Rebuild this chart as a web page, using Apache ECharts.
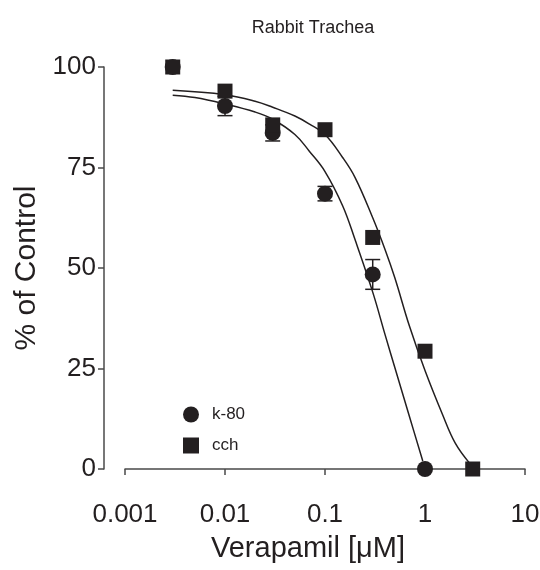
<!DOCTYPE html>
<html>
<head>
<meta charset="utf-8">
<script src="https://cdn.jsdelivr.net/npm/echarts@6/dist/echarts.min.js"></script>
<style>
html, body { margin: 0; padding: 0; background: #fff; }
#chart { width: 540px; height: 570px; }
</style>
</head>
<body>
<div id="chart"></div>
<script>
// measured points (Verapamil, µM)
var k80Dose = [0.003, 0.01, 0.03, 0.1, 0.3, 1];
var k80Mean = [100, 90.3, 83.6, 68.5, 48.4, 0];
var k80Sem = [0, 2.4, 2.0, 1.8, 3.7, 0];

var cchDose = [0.003, 0.01, 0.03, 0.1, 0.3, 1, 3];
var cchMean = [100, 94.0, 85.6, 84.4, 57.6, 29.3, 0];

// fitted curves
var k80CurveX = [0.003, 0.005, 0.01, 0.02, 0.03, 0.05, 0.07, 0.1, 0.15, 0.2, 0.3, 0.4, 0.5, 0.7, 0.95];
var k80CurveY = [93.0, 92.4, 90.8, 88.8, 87.0, 83.2, 79.0, 74.0, 65.5, 57.0, 44.0, 33.3, 25.2, 13, 2];
var cchCurveX = [0.003, 0.01, 0.02, 0.03, 0.05, 0.07, 0.1, 0.15, 0.2, 0.3, 0.4, 0.5, 0.7, 1, 1.5, 2, 2.8];
var cchCurveY = [94.2, 93.1, 91.5, 90.0, 87.8, 85.8, 83.2, 77.5, 72.5, 62.5, 54.5, 47.5, 35.5, 24.5, 13.5, 6.5, 1.4];

var yTicks = [0, 25, 50, 75, 100];

var ink = '#231f20';
var font = 'Liberation Sans, Arial, Helvetica, sans-serif';

function pairs(xs, ys) {
    return xs.map(function(x, i) { return [x, ys[i]]; });
}

var errData = k80Dose.map(function(x, i) {
    return [x, k80Mean[i] - k80Sem[i], k80Mean[i] + k80Sem[i]];
}).filter(function(d) { return d[2] > d[1]; });

var chartDom = document.getElementById('chart');
var myChart = echarts.init(chartDom);
var option;

option = {
    animation: false,
    backgroundColor: '#fff',
    title: {
        text: 'Rabbit Trachea',
        left: 308,
        top: 14,
        textAlign: 'center',
        textStyle: { fontFamily: font, fontSize: 18, fontWeight: 'normal', color: ink }
    },
    legend: {
        orient: 'vertical',
        left: 178,
        top: 401,
        itemWidth: 16,
        itemHeight: 16,
        itemGap: 14,
        data: ['k-80', 'cch'],
        itemStyle: { opacity: 1 },
        textStyle: { fontFamily: font, fontSize: 17, color: ink, padding: [0, 0, 0, 8] }
    },
    grid: { left: 125, right: 15, top: 67, bottom: 101, outerBoundsMode: 'none' },
    xAxis: {
        type: 'log',
        logBase: 10,
        min: 0.001,
        max: 10,
        offset: 23,
        name: 'Verapamil [\u03bcM]',
        nameLocation: 'middle',
        nameGap: 42,
        nameTextStyle: { fontFamily: font, fontSize: 29, color: ink, padding: [0, 34, 0, 0] },
        axisLine: { lineStyle: { color: '#4a4a4a', width: 1.5 } },
        axisTick: { show: true, length: 6, lineStyle: { color: '#4a4a4a', width: 1.5 } },
        minorTick: { show: false },
        splitLine: { show: false },
        axisLabel: {
            fontFamily: font, fontSize: 26, color: ink, margin: 10,
            formatter: function(v) { return String(+v.toPrecision(3)); }
        }
    },
    yAxis: {
        type: 'value',
        min: yTicks[0],
        max: yTicks[yTicks.length - 1],
        interval: 25,
        offset: 21,
        name: '% of Control',
        nameLocation: 'middle',
        nameGap: 60,
        nameTextStyle: { fontFamily: font, fontSize: 30, color: ink },
        axisLine: { show: true, lineStyle: { color: '#4a4a4a', width: 1.5 } },
        axisTick: { show: true, length: 6, lineStyle: { color: '#4a4a4a', width: 1.5 } },
        splitLine: { show: false },
        axisLabel: { fontFamily: font, fontSize: 26, color: ink, margin: 8 }
    },
    series: [
        {
            name: 'k-80 fit',
            type: 'line',
            data: pairs(k80CurveX, k80CurveY),
            smooth: 0.4,
            showSymbol: false,
            lineStyle: { color: ink, width: 1.5 },
            z: 1
        },
        {
            name: 'cch fit',
            type: 'line',
            data: pairs(cchCurveX, cchCurveY),
            smooth: 0.4,
            showSymbol: false,
            lineStyle: { color: ink, width: 1.5 },
            z: 1
        },
        {
            name: 'k-80 sem',
            type: 'custom',
            data: errData,
            z: 2,
            renderItem: function(params, api) {
                var lo = api.coord([api.value(0), api.value(1)]);
                var hi = api.coord([api.value(0), api.value(2)]);
                var w = 7.5;
                var st = { stroke: ink, lineWidth: 1.5 };
                return {
                    type: 'group',
                    children: [
                        { type: 'line', shape: { x1: lo[0], y1: lo[1], x2: hi[0], y2: hi[1] }, style: st },
                        { type: 'line', shape: { x1: lo[0] - w, y1: lo[1], x2: lo[0] + w, y2: lo[1] }, style: st },
                        { type: 'line', shape: { x1: hi[0] - w, y1: hi[1], x2: hi[0] + w, y2: hi[1] }, style: st }
                    ]
                };
            }
        },
        {
            name: 'k-80',
            type: 'scatter',
            symbol: 'circle',
            symbolSize: 16,
            data: pairs(k80Dose, k80Mean),
            itemStyle: { color: ink, opacity: 1 },
            z: 3
        },
        {
            name: 'cch',
            type: 'scatter',
            symbol: 'rect',
            symbolSize: 15,
            data: pairs(cchDose, cchMean),
            itemStyle: { color: ink, opacity: 1 },
            z: 4
        }
    ]
};

option && myChart.setOption(option);
</script>
</body>
</html>
